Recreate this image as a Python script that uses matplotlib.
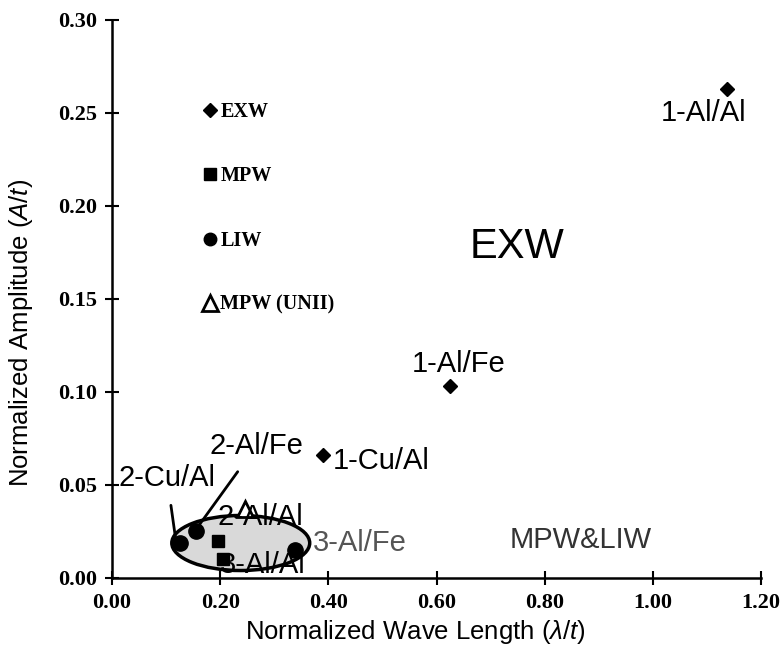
import numpy as np
import matplotlib.pyplot as plt
from matplotlib.patches import Ellipse
from matplotlib.lines import Line2D

plt.rcParams['mathtext.fontset'] = 'custom'
plt.rcParams['mathtext.it'] = 'Liberation Sans:italic'
plt.rcParams['mathtext.rm'] = 'Liberation Sans'

# ---- data ----
exw_x = [1.137, 0.624, 0.391]
exw_y = [0.263, 0.103, 0.066]
mpw_x = [0.196, 0.205]
mpw_y = [0.020, 0.010]
liw_x = [0.125, 0.155, 0.338]
liw_y = [0.019, 0.025, 0.0151]
unii_x = [0.246]
unii_y = [0.037]

# labels: text, text position, point (None = no leader line)
lab_text = ['1-Al/Al', '1-Al/Fe', '1-Cu/Al', '2-Al/Fe', '2-Cu/Al', '2-Al/Al', '3-Al/Fe', '3-Al/Al']
lab_x = [1.015, 0.555, 0.408, 0.180, 0.012, 0.195, 0.372, 0.200]
lab_y = [0.250, 0.115, 0.063, 0.071, 0.054, 0.033, 0.019, 0.007]
lab_px = [None, None, None, 0.155, 0.120, None, None, None]
lab_py = [None, None, None, 0.026, 0.016, None, None, None]
lab_col = ['black'] * 6 + ['#555555', 'black']

fig = plt.figure(figsize=(7.84, 6.55), dpi=100)
ax = fig.add_axes([0.1429, 0.1176, 0.8278, 0.8519])

# MPW & LIW region
ax.add_patch(Ellipse((0.238, 0.0188), 0.255, 0.0296, facecolor='#d9d9d9',
                     edgecolor='black', lw=2.5, zorder=2))

ax.plot(exw_x, exw_y, 'D', color='black', ms=7, ls='none', zorder=4)
ax.plot(mpw_x, mpw_y, 's', color='black', ms=9, ls='none', zorder=4)
ax.plot(liw_x, liw_y, 'o', color='black', ms=11, ls='none', zorder=4)
ax.plot(unii_x, unii_y, '^', mfc='white', mec='black', mew=2, ms=11, ls='none', zorder=4)

for t, x, y, px, py, c in zip(lab_text, lab_x, lab_y, lab_px, lab_py, lab_col):
    if px is None:
        ax.text(x, y, t, fontsize=21, family='Liberation Sans', color=c,
                va='center', ha='left', zorder=5)
    else:
        ax.annotate(t, xy=(px, py), xytext=(x, y), fontsize=21, family='Liberation Sans',
                    va='center', ha='left', zorder=5,
                    arrowprops=dict(arrowstyle='-', color='black', lw=2, shrinkA=8, shrinkB=0))

ax.text(0.749, 0.178, 'EXW', fontsize=30, family='Liberation Sans', ha='center', va='center')
ax.text(0.866, 0.0204, 'MPW&LIW', fontsize=21, family='Liberation Sans', color='#333333',
        ha='center', va='center')

# legend
handles = [Line2D([], [], marker='D', color='black', ls='none', ms=7),
           Line2D([], [], marker='s', color='black', ls='none', ms=8),
           Line2D([], [], marker='o', color='black', ls='none', ms=9),
           Line2D([], [], marker='^', mfc='white', mec='black', mew=2, ls='none', ms=11)]
ax.legend(handles, ['EXW', 'MPW', 'LIW', 'MPW (UNII)'], loc='upper left',
          bbox_to_anchor=(0.139, 0.853), frameon=False, borderpad=0, borderaxespad=0,
          handlelength=0.8, handletextpad=0.1, labelspacing=2.2,
          prop={'family': 'Liberation Serif', 'weight': 'bold', 'size': 14.5})

ax.set_xlim(0, 1.2)
ax.set_ylim(0, 0.30)
ax.set_xticks(np.arange(0, 1.21, 0.2))
ax.set_yticks(np.arange(0, 0.301, 0.05))
ax.set_xticklabels(['%.2f' % v for v in np.arange(0, 1.21, 0.2)])
ax.set_yticklabels(['%.2f' % v for v in np.arange(0, 0.301, 0.05)])
for lbl in ax.get_xticklabels() + ax.get_yticklabels():
    lbl.set_family('Liberation Serif')
    lbl.set_weight('bold')
    lbl.set_fontsize(16)
ax.tick_params(direction='inout', length=10, width=1.5, pad=6)
for s in ['top', 'right']:
    ax.spines[s].set_visible(False)
for s in ['left', 'bottom']:
    ax.spines[s].set_linewidth(1.8)

ax.set_xlabel(r'Normalized Wave Length ($\it{\lambda/t}$)', fontsize=18.5, family='Liberation Sans')
ax.set_ylabel(r'Normalized Amplitude ($\it{A/t}$)', fontsize=18.5, family='Liberation Sans')
ax.xaxis.set_label_coords(0.467, -0.072)
ax.yaxis.set_label_coords(-0.119, 0.44)

fig.savefig('out.png', dpi=100)
